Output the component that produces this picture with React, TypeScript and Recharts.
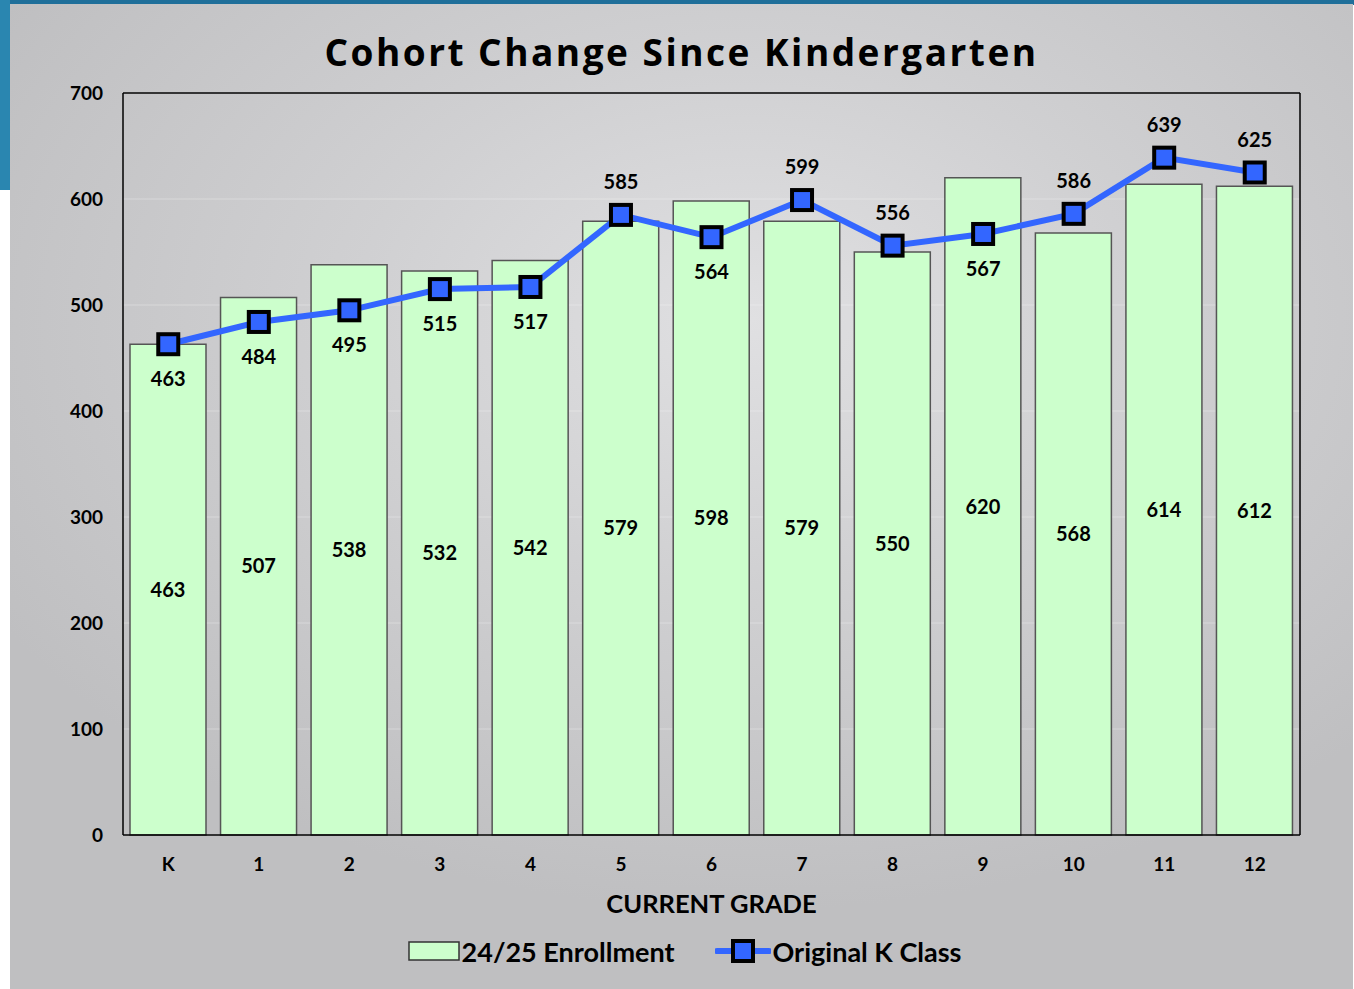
import React from "react";
import {
  ComposedChart,
  Bar,
  Line,
  XAxis,
  YAxis,
  CartesianGrid,
  LabelList,
  Legend,
} from "recharts";

const GRADES = ["K", "1", "2", "3", "4", "5", "6", "7", "8", "9", "10", "11", "12"];
const ENROLLMENT = [463, 507, 538, 532, 542, 579, 598, 579, 550, 620, 568, 614, 612];
const ORIGINAL_K = [463, 484, 495, 515, 517, 585, 564, 599, 556, 567, 586, 639, 625];
const Y_TICKS = [0, 100, 200, 300, 400, 500, 600, 700];

const data = GRADES.map((grade, i) => ({
  grade,
  enrollment: ENROLLMENT[i],
  originalK: ORIGINAL_K[i],
}));

const FONT = "Lato, 'Open Sans', sans-serif";
const BLUE = "#3366ff";
const GREEN = "#ccffcc";

function SquareDot(props: any) {
  const { cx, cy, index } = props;
  if (cx == null || cy == null) return null;
  return (
    <rect
      key={`dot-${index}`}
      x={cx - 10}
      y={cy - 10}
      width={20}
      height={20}
      fill={BLUE}
      stroke="#000"
      strokeWidth={4}
    />
  );
}

// label above the marker when the line sits over its bar, below otherwise
function LineLabel(props: any) {
  const { x, y, value, index } = props;
  const above = ORIGINAL_K[index] > ENROLLMENT[index];
  return (
    <text
      x={x}
      y={above ? y - 34 : y + 34}
      textAnchor="middle"
      dominantBaseline="central"
      fontFamily={FONT}
      fontWeight={700}
      fontSize={20}
      fill="#000"
    >
      {value}
    </text>
  );
}

function LegendContent() {
  return (
    <div
      style={{
        height: 40,
        display: "flex",
        justifyContent: "center",
        alignItems: "center",
        fontFamily: FONT,
        fontWeight: 700,
        fontSize: 27,
        color: "#000",
        paddingLeft: 58,
      }}
    >
      <svg width={52} height={20} style={{ marginRight: 2 }}>
        <rect x={1} y={1} width={50} height={18} fill={GREEN} stroke="#333" strokeWidth={1.5} />
      </svg>
      <span>24/25 Enrollment</span>
      <svg width={56} height={28} style={{ marginLeft: 40, marginRight: 2 }}>
        <line x1={2} y1={14} x2={54} y2={14} stroke={BLUE} strokeWidth={6} strokeLinecap="round" />
        <rect x={18} y={4} width={20} height={20} fill={BLUE} stroke="#000" strokeWidth={4} />
      </svg>
      <span>Original K Class</span>
    </div>
  );
}

export default function App() {
  return (
    <div
      style={{
        position: "absolute",
        left: 0,
        top: 0,
        width: 1354,
        height: 989,
        background: "#ffffff",
        overflow: "hidden",
      }}
    >
      <div style={{ position: "absolute", left: 0, top: 0, width: 1354, height: 5, background: "#1f6f9a" }} />
      <div style={{ position: "absolute", left: 0, top: 0, width: 10, height: 190, background: "#2a86b0" }} />
      <div
        style={{
          position: "absolute",
          left: 10,
          top: 4,
          width: 1343,
          height: 985,
          background:
            "radial-gradient(ellipse 65% 60% at 55% 32%, #e0e0e2 0%, #d0d0d2 45%, #bfbfc1 100%)",
        }}
      >
        <div
          style={{
            position: "absolute",
            left: 0,
            top: 22,
            width: 1343,
            textAlign: "center",
            fontFamily: "'Open Sans', sans-serif",
            fontWeight: 700,
            fontSize: 37,
            letterSpacing: 2.5,
            color: "#000",
          }}
        >
          Cohort Change Since Kindergarten
        </div>
        <div style={{ position: "absolute", left: 0, top: 0 }}>
          <ComposedChart
            width={1343}
            height={985}
            data={data}
            margin={{ top: 88, right: 52, bottom: 18, left: 0 }}
          >
            <CartesianGrid
              vertical={false}
              stroke="rgba(255,255,255,0.3)"
              strokeWidth={1}
            />
            <XAxis
              dataKey="grade"
              height={96}
              axisLine={{ stroke: "#000", strokeWidth: 1.5 }}
              tickLine={false}
              tickSize={0}
              tickMargin={23}
              tick={{ fontFamily: FONT, fontWeight: 700, fontSize: 19, fill: "#000" }}
              label={{
                value: "CURRENT GRADE",
                position: "insideBottom",
                offset: 18,
                fontFamily: FONT,
                fontWeight: 700,
                fontSize: 25.5,
                fill: "#000",
              }}
            />
            <XAxis
              xAxisId="top"
              dataKey="grade"
              orientation="top"
              height={1}
              tick={false}
              tickLine={false}
              axisLine={{ stroke: "#000", strokeWidth: 1.5 }}
            />
            <YAxis
              domain={[0, 700]}
              ticks={Y_TICKS}
              width={113}
              axisLine={{ stroke: "#000", strokeWidth: 1.5 }}
              tickLine={false}
              tickSize={0}
              tickMargin={20}
              tick={{ fontFamily: FONT, fontWeight: 700, fontSize: 19, fill: "#000" }}
            />
            <YAxis
              yAxisId="right"
              orientation="right"
              domain={[0, 700]}
              ticks={Y_TICKS}
              width={1}
              tick={false}
              tickLine={false}
              axisLine={{ stroke: "#000", strokeWidth: 1.5 }}
            />
            <Legend verticalAlign="bottom" content={<LegendContent />} />
            <Bar
              dataKey="enrollment"
              name="24/25 Enrollment"
              fill={GREEN}
              stroke="#555"
              strokeWidth={1.5}
              barSize={76}
              isAnimationActive={false}
            >
              <LabelList
                dataKey="enrollment"
                position="center"
                fontFamily={FONT}
                fontWeight={700}
                fontSize={20}
                fill="#000"
              />
            </Bar>
            <Line
              xAxisId="top"
              yAxisId="right"
              dataKey="originalK"
              name="Original K Class"
              type="linear"
              stroke={BLUE}
              strokeWidth={6}
              dot={<SquareDot />}
              activeDot={false}
              isAnimationActive={false}
            >
              <LabelList dataKey="originalK" content={<LineLabel />} />
            </Line>
          </ComposedChart>
        </div>
      </div>
    </div>
  );
}
